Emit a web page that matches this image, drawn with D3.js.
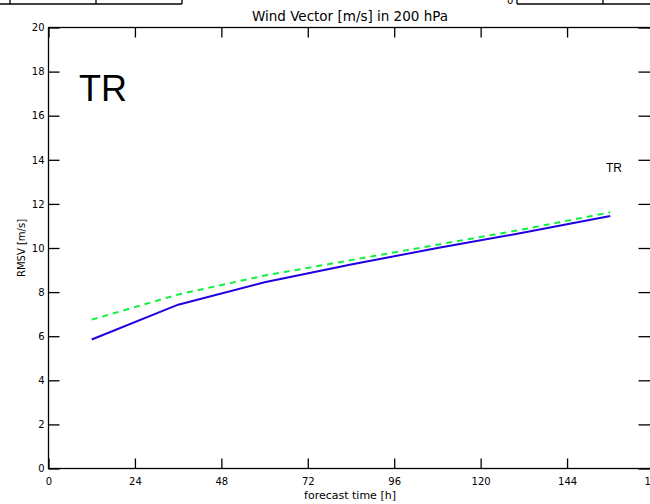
<!DOCTYPE html>
<html>
<head>
<meta charset="utf-8">
<script src="https://cdn.jsdelivr.net/npm/d3@7"></script>
<style>
  body { margin: 0; background: #fff; }
  svg { display: block; font-family: "DejaVu Sans", sans-serif; }
  .tick text { fill: #000; }
</style>
</head>
<body>
<svg id="chart" width="650" height="504"></svg>
<script>
// forecast hours and RMSV values
var hours = [12, 36, 60, 84, 108, 132, 156];
var blueVals = [5.85, 7.43, 8.45, 9.25, 10.0, 10.7, 11.45];
var greenVals = [6.75, 7.89, 8.75, 9.45, 10.15, 10.85, 11.62];
var xTicks = [0, 24, 48, 72, 96, 120, 144, 168];
var yTicks = [0, 2, 4, 6, 8, 10, 12, 14, 16, 18, 20];

var svg = d3.select('#chart');
var plotLeft = 48.5, plotRight = 653.5, plotTop = 27.5, plotBottom = 468.5;

var x = d3.scaleLinear().domain([0, 168]).range([plotLeft, plotRight]);
var y = d3.scaleLinear().domain([0, 20]).range([plotBottom, plotTop]);

// remnants of the panels above
var strip = svg.append('g').attr('stroke', '#000').attr('stroke-width', 1.3);
strip.append('line').attr('x1', 0).attr('x2', 182).attr('y1', 4).attr('y2', 4);
strip.append('line').attr('x1', 182).attr('x2', 182).attr('y1', 0).attr('y2', 4);
strip.append('line').attr('x1', 10).attr('x2', 10).attr('y1', 0).attr('y2', 4);
strip.append('line').attr('x1', 96).attr('x2', 96).attr('y1', 0).attr('y2', 4);
strip.append('line').attr('x1', 517).attr('x2', 650).attr('y1', 4).attr('y2', 4);
strip.append('line').attr('x1', 517).attr('x2', 517).attr('y1', 0).attr('y2', 4);
strip.append('line').attr('x1', 603).attr('x2', 603).attr('y1', 0).attr('y2', 4);
svg.append('text').attr('x', 507).attr('y', 4).attr('font-size', 10).text('0');

// frame
svg.append('rect')
  .attr('x', plotLeft).attr('y', plotTop)
  .attr('width', plotRight - plotLeft).attr('height', plotBottom - plotTop)
  .attr('fill', 'none').attr('stroke', '#000').attr('stroke-width', 1.3);

// axes, ticks pointing inward
svg.append('g')
  .attr('transform', 'translate(0,' + plotBottom + ')')
  .call(d3.axisBottom(x).tickValues(xTicks).tickSize(-10).tickPadding(9))
  .call(function(g) { g.select('.domain').remove(); })
  .selectAll('text').attr('font-size', 10).attr('font-family', 'DejaVu Sans');
svg.append('g')
  .attr('transform', 'translate(0,' + plotTop + ')')
  .call(d3.axisTop(x).tickValues(xTicks).tickSize(-10).tickFormat(''))
  .call(function(g) { g.select('.domain').remove(); });
svg.append('g')
  .attr('transform', 'translate(' + plotLeft + ',0)')
  .call(d3.axisLeft(y).tickValues(yTicks).tickSize(-11).tickPadding(4))
  .call(function(g) { g.select('.domain').remove(); })
  .selectAll('text').attr('font-size', 10).attr('font-family', 'DejaVu Sans');
svg.append('g')
  .attr('transform', 'translate(' + plotRight + ',0)')
  .call(d3.axisRight(y).tickValues(yTicks).tickSize(-15).tickFormat(''))
  .call(function(g) { g.select('.domain').remove(); });
svg.selectAll('.tick line').attr('stroke', '#000').attr('stroke-width', 1.3);

// lines
var line = d3.line()
  .x(function(d) { return x(d[0]); })
  .y(function(d) { return y(d[1]); });

svg.append('path')
  .datum(d3.zip(hours, greenVals))
  .attr('d', line)
  .attr('fill', 'none').attr('stroke', '#10f040')
  .attr('stroke-width', 2).attr('stroke-dasharray', '6,5');

svg.append('path')
  .datum(d3.zip(hours, blueVals))
  .attr('d', line)
  .attr('fill', 'none').attr('stroke', '#2000e0')
  .attr('stroke-width', 2);

// texts
svg.append('text')
  .attr('x', 350).attr('y', 21)
  .attr('text-anchor', 'middle').attr('font-size', 13.5)
  .text('Wind Vector [m/s] in 200 hPa');
svg.append('text')
  .attr('x', 350).attr('y', 499)
  .attr('text-anchor', 'middle').attr('font-size', 11)
  .text('forecast time [h]');
svg.append('text')
  .attr('transform', 'translate(25,248) rotate(-90)')
  .attr('text-anchor', 'middle').attr('font-size', 10)
  .text('RMSV [m/s]');
svg.append('text')
  .attr('x', 79).attr('y', 101)
  .attr('font-family', 'Liberation Sans, Arial, sans-serif')
  .attr('font-size', 36)
  .text('TR');
svg.append('text')
  .attr('x', 606).attr('y', 172)
  .attr('font-family', 'Liberation Sans, Arial, sans-serif')
  .attr('font-size', 12)
  .text('TR');
</script>
</body>
</html>
